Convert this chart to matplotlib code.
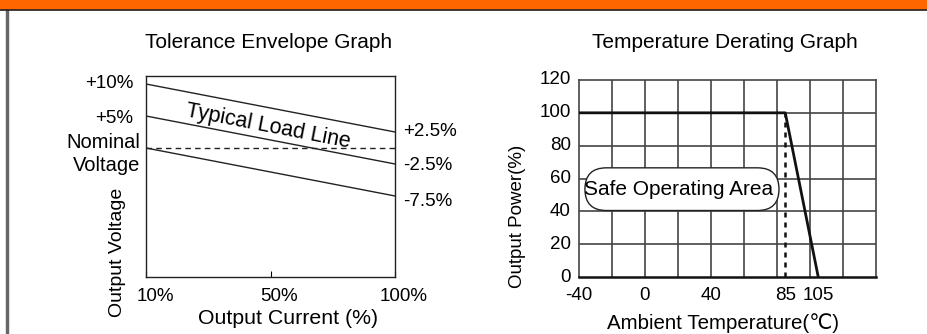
import matplotlib
matplotlib.use("Agg")
import matplotlib.pyplot as plt
from matplotlib.patches import Rectangle, FancyBboxPatch
from matplotlib.lines import Line2D
from matplotlib.transforms import ScaledTranslation

plt.rcParams['font.family'] = ['Liberation Sans', 'DejaVu Sans']
plt.rcParams['axes.unicode_minus'] = False

# tolerance envelope data (voltage deviation in %)
current = [10, 100]
upper_limit = [10, 2.5]
typical_line = [5, -2.5]
lower_limit = [0, -7.5]
nominal = [0, 0]
current_ticks = [10, 55, 100]
current_labels = ['10%', '50%', '100%']
right_labels = ['+2.5%', '-2.5%', '-7.5%']

# temperature derating data
temp = [-40, 85, 105]
power = [100, 100, 0]
temp_ticks = [-40, 0, 40, 85, 105]
power_ticks = [0, 20, 40, 60, 80, 100, 120]

W, H = 927, 334
fig = plt.figure(figsize=(W / 100, H / 100), dpi=100)

def px(x0, y0, x1, y1):
    # pixel box -> figure fraction rect
    return [x0 / W, 1 - y1 / H, (x1 - x0) / W, (y1 - y0) / H]

# header bar + frame
fig.patches.append(Rectangle((0, 1 - 9 / H), 1, 9 / H, transform=fig.transFigure,
                             color='#FF6600', zorder=0))
fig.lines.append(Line2D([0, 1], [1 - 10 / H] * 2, transform=fig.transFigure,
                        color='#222222', lw=1.2))
fig.patches.append(Rectangle((6 / W, 0), 2 / W, 1 - 10 / H, transform=fig.transFigure,
                             color='#666666', zorder=0))

# ---- left: tolerance envelope ----
ax1 = fig.add_axes(px(146, 76, 395, 277))
ax1.plot(current, upper_limit, color='#222222', lw=1)
ax1.plot(current, typical_line, color='#222222', lw=1)
ax1.plot(current, lower_limit, color='#222222', lw=1)
ax1.plot(current, nominal, color='#222222', lw=1, dashes=(4, 3))
ax1.set_xlim(10, 100)
ax1.set_ylim(-20.16, 11.25)
ax1.set_yticks([])
ax1.set_xticks(current_ticks)
ax1.set_xticklabels(current_labels, fontsize=13.5)
ax1.tick_params(axis='x', direction='in', length=4, pad=8)
for lab in ax1.get_xticklabels():
    lab.set_transform(lab.get_transform() + ScaledTranslation(9 / 100, 0, fig.dpi_scale_trans))
for sp in ax1.spines.values():
    sp.set_color('#222222')
    sp.set_linewidth(1)

ax1.annotate('+10%', (10, upper_limit[0]), xytext=(-13, 0), textcoords='offset pixels',
             ha='right', va='center', fontsize=13.5)
ax1.annotate('+5%', (10, typical_line[0]), xytext=(-13, -3), textcoords='offset pixels',
             ha='right', va='center', fontsize=13.5)
ax1.annotate('Nominal\nVoltage', (10, nominal[0]), xytext=(-6, -6), textcoords='offset pixels',
             ha='right', va='center', fontsize=14.5, linespacing=1.25)
ends = [upper_limit[-1], typical_line[-1], lower_limit[-1]]
offs = [0, -2, -6]
for lab, yv, dy in zip(right_labels, ends, offs):
    ax1.annotate(lab, (100, yv), xytext=(8, dy), textcoords='offset pixels',
                 ha='left', va='center', fontsize=13.5)
ax1.text(54, 3.4, 'Typical Load Line', rotation=-10.9, rotation_mode='anchor',
         ha='center', va='center', fontsize=15.5)

fig.text(269 / W, 1 - 42 / H, 'Tolerance Envelope Graph', ha='center', va='center', fontsize=15)
fig.text(288 / W, 1 - 318 / H, 'Output Current (%)', ha='center', va='center', fontsize=15.3)
fig.text(117 / W, 1 - 252 / H, 'Output Voltage', ha='center', va='center', rotation=90, fontsize=14)

# ---- right: temperature derating ----
ax2 = fig.add_axes(px(579, 80, 876, 277))
ax2.set_xlim(-40, 140)
ax2.set_ylim(0, 120)
ax2.set_yticks(power_ticks)
ax2.set_xticks(temp_ticks)
ax2.tick_params(length=0, labelsize=13.5)
ax2.tick_params(axis='x', pad=7)
ax2.tick_params(axis='y', pad=6)
for lab in ax2.get_yticklabels():
    lab.set_transform(lab.get_transform() + ScaledTranslation(0, 2 / 100, fig.dpi_scale_trans))
ax2.grid(False)
for g in range(-20, 140, 20):
    ax2.axvline(g, color='#444444', lw=1.2, zorder=1)
for g in power_ticks[1:-1]:
    ax2.axhline(g, color='#444444', lw=1.2, zorder=1)
for name, sp in ax2.spines.items():
    sp.set_color('#444444')
    sp.set_linewidth(1.2)
ax2.spines['bottom'].set_color('#111111')
ax2.spines['bottom'].set_linewidth(1.8)

ax2.plot(temp, power, color='#111111', lw=2, zorder=4)
ax2.plot([temp[1], temp[1]], [0, power[1]], color='#111111', lw=1.8, dashes=(2, 2), zorder=4)

box = FancyBboxPatch((-36.4, 40.5), 117.6, 26, boxstyle='round,pad=0,rounding_size=13',
                     facecolor='white', edgecolor='#222222', lw=1, zorder=3)
ax2.add_patch(box)
ax2.text(20.5, 53, 'Safe Operating Area', ha='center', va='center', fontsize=15, zorder=5)

fig.text(725 / W, 1 - 42 / H, 'Temperature Derating Graph', ha='center', va='center', fontsize=15)
fig.text(723 / W, 1 - 323 / H, 'Ambient Temperature(℃)', ha='center', va='center', fontsize=14.8)
fig.text(518 / W, 1 - 216 / H, 'Output Power(%)', ha='center', va='center', rotation=90, fontsize=13.5)

fig.savefig('out.png', dpi=100)
